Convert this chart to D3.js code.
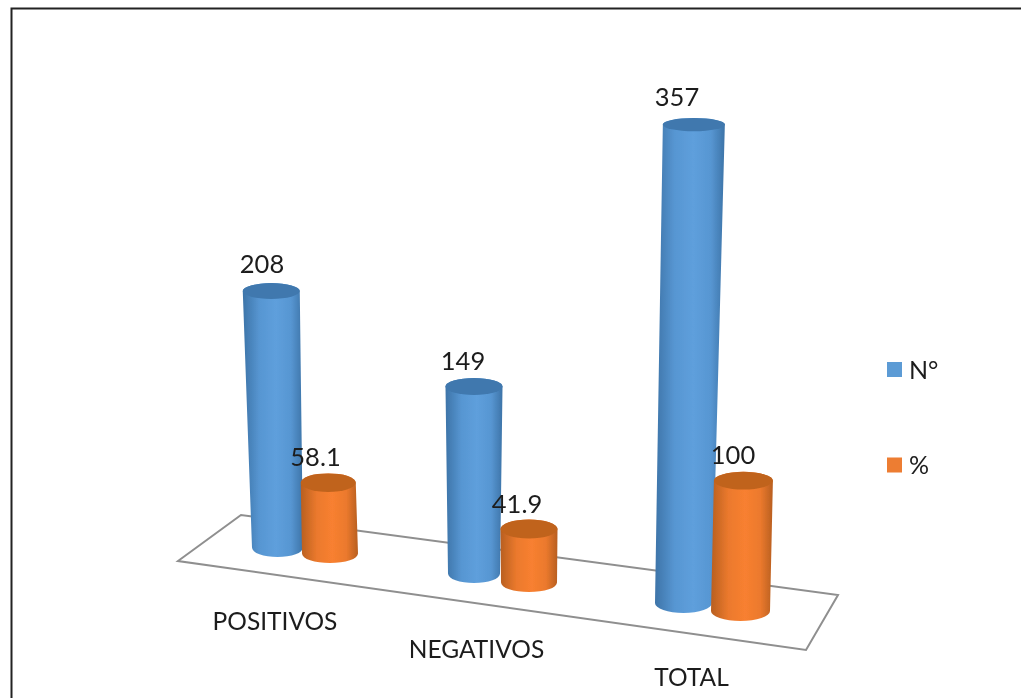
<!DOCTYPE html>
<html><head><meta charset="utf-8">
<style>html,body{margin:0;padding:0;background:#fff}svg{display:block}</style>
<script src="https://cdn.jsdelivr.net/npm/d3@7/dist/d3.min.js"></script>
</head><body><svg id="c" width="1021" height="698"></svg>
<script>
const categories = ["POSITIVOS", "NEGATIVOS", "TOTAL"];
const seriesNames = ["N°", "%"];
const nValues = [208, 149, 357];
const pctValues = [58.1, 41.9, 100];
const seriesColors = ["#5b9bd5", "#ed7d31"];

const W = 1021, H = 698;
const svg = d3.select("#c");
const defs = svg.append("defs");
[["#3d74a8","#5e9fdc"],["#b85f20","#f88030"]].forEach((c,i)=>{
  const g = defs.append("linearGradient").attr("id","g"+i);
  [[0,c[0]],[.28,d3.interpolateRgb(c[0],c[1])(.8)],[.55,c[1]],[.8,d3.interpolateRgb(c[0],c[1])(.8)],[1,c[0]]]
   .forEach(s=>g.append("stop").attr("offset",s[0]).attr("stop-color",s[1]));
});
const capColors = ["#3f78ae","#c0641f"];
defs.append("filter").attr("id","soft").append("feGaussianBlur").attr("stdDeviation",0.55);
defs.append("filter").attr("id","softText").append("feGaussianBlur").attr("stdDeviation",0.3);

// frame
svg.append("path").attr("d",`M11.5,698V8.5H${W}`).attr("fill","none").attr("stroke","#222").attr("stroke-width",2);

// floor
const floor = d3.line()([[178,561],[241,515],[838,595],[806,650]]) + "Z";
svg.append("path").attr("d",floor).attr("fill","#fff").attr("stroke","#8f8f8f").attr("stroke-width",2);

// perspective scales: one position per category on the floor
const idx = [0,1,2];
const sc = r => d3.scaleLinear().domain(idx).range(r);
const baseX = [sc([277.5,474,683.5]), sc([330,529,740.5])];
const baseY = [sc([547.5,573.5,603]), sc([553.5,582.5,611])];
const unitH = [sc([1.233,1.255,1.34]), sc([1.219,1.277,1.303])];
const lean = sc([-0.03,0,0.029]);
const rxBase = [sc([25.5,26,28.5]), sc([28,28,29.5])];
const rxTop = [sc([28.5,28.5,31]), sc([27.5,28.5,29.5])];
const ryBase = sc([9.5,9.5,10]);
const ryTop = d3.scaleLinear().domain([0,357]).range([9.8,6.6]);

function cyl(g, s, i, v){
  const bx = baseX[s](i), by = baseY[s](i), h = v*unitH[s](i), tx = bx + v*lean(i), ty = by-h;
  const rb = rxBase[s](i), rt = rxTop[s](i), r = ryBase(i), rT = ryTop(v);
  g.append("path")
    .attr("d",`M${tx-rt},${ty}L${bx-rb},${by}A${rb},${r} 0 0 0 ${bx+rb},${by}L${tx+rt},${ty}A${rt},${rT} 0 0 0 ${tx-rt},${ty}Z`)
    .attr("fill",`url(#g${s})`);
  g.append("ellipse").attr("cx",tx).attr("cy",ty).attr("rx",rt).attr("ry",rT).attr("fill",capColors[s]);
  return {tx,ty};
}

const font = "Lato, 'Open Sans', sans-serif";
const marks = svg.append("g").attr("filter","url(#soft)");
const labels = svg.append("g").attr("font-family",font).attr("fill","#1c1c1c").attr("filter","url(#softText)");
const seriesValues = [nValues, pctValues];
const labelX = [sc([262,463,677]), sc([315.5,517,733])];
const labelY = [sc([273,370,106]), sc([466,513,464])];
categories.forEach((c,i)=>{
  seriesValues.forEach((vals,s)=>{
    cyl(marks.append("g"), s, i, vals[i]);
    labels.append("text").attr("x",labelX[s](i)).attr("y",labelY[s](i))
      .attr("text-anchor","middle").attr("font-size",25.5).text(vals[i]);
  });
});

// category labels
const catX = sc([275,476.5,691.5]);
const catY = sc([630,658,686]);
categories.forEach((c,i)=>{
  labels.append("text").attr("x",catX(i)).attr("y",catY(i)).attr("text-anchor","middle").attr("font-size",24.5).text(c);
});

// legend
const legY = d3.scalePoint().domain(seriesNames).range([369.5,465]);
seriesNames.forEach((n,s)=>{
  marks.append("rect").attr("x",887).attr("y",legY(n)-7.5).attr("width",15).attr("height",15).attr("fill",seriesColors[s]);
  labels.append("text").attr("x",909).attr("y",legY(n)+9).attr("font-size",25).text(n);
});
</script></body></html>
